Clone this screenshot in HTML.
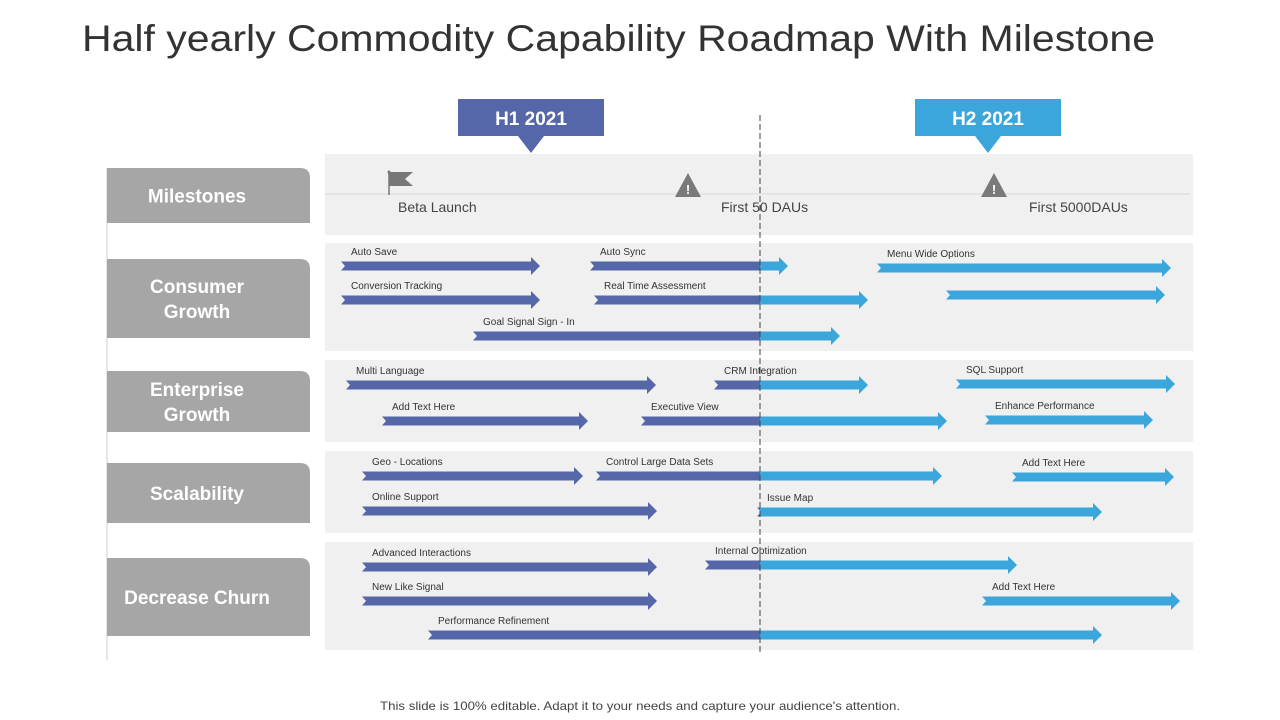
<!DOCTYPE html>
<html><head><meta charset="utf-8"><style>
body{margin:0;width:1280px;height:720px;background:#fff;overflow:hidden;font-family:"Liberation Sans",sans-serif;}
svg{display:block}
</style></head><body>
<svg id="c" width="1280" height="720" viewBox="0 0 1280 720" xmlns="http://www.w3.org/2000/svg">
<text x="82" y="51" font-size="37" fill="#333" textLength="1073" lengthAdjust="spacingAndGlyphs" font-family="Liberation Sans, sans-serif">Half yearly Commodity Capability Roadmap With Milestone</text>
<g id="bands"></g>
<g id="labels"></g>
<line x1="325" y1="194" x2="1190" y2="194" stroke="#d8d8d8" stroke-width="1"/>
<g><line x1="389" y1="172" x2="389" y2="195" stroke="#777" stroke-width="1.5"/><path d="M389,172 L413,172 L405,179 L413,186 L389,186Z" fill="#777"/><circle cx="389" cy="172" r="1.5" fill="#777"/></g>
<text x="398" y="212" font-size="14" fill="#444">Beta Launch</text>
<g><path d="M688,173 L701,197 L675,197Z" fill="#7a7a7a"/><text x="688" y="194" font-size="13" font-weight="bold" fill="#fff" text-anchor="middle">!</text></g>
<text x="721" y="212" font-size="14" fill="#444">First 50 DAUs</text>
<g><path d="M994,173 L1007,197 L981,197Z" fill="#7a7a7a"/><text x="994" y="194" font-size="13" font-weight="bold" fill="#fff" text-anchor="middle">!</text></g>
<text x="1029" y="212" font-size="14" fill="#444">First 5000DAUs</text>
<g id="tasks"></g>
<line x1="760" y1="115" x2="760" y2="652" stroke="#444" stroke-width="1" stroke-dasharray="6,3"/>
<g><rect x="458" y="99" width="146" height="37" fill="#5567a8"/><path d="M518,136 L544,136 L531,153Z" fill="#5567a8"/><text x="531" y="125" font-size="19" font-weight="bold" fill="#fff" text-anchor="middle">H1 2021</text></g>
<g><rect x="915" y="99" width="146" height="37" fill="#3aa6dc"/><path d="M975,136 L1001,136 L988,153Z" fill="#3aa6dc"/><text x="988" y="125" font-size="19" font-weight="bold" fill="#fff" text-anchor="middle">H2 2021</text></g>
<text x="380" y="710" font-size="12" fill="#444" textLength="520" lengthAdjust="spacingAndGlyphs">This slide is 100% editable. Adapt it to your needs and capture your audience's attention.</text>
</svg>
<script>
const rowNames=["Milestones","Consumer Growth","Enterprise Growth","Scalability","Decrease Churn"];
const bandTop=[154,243,360,451,542];
const bandBottom=[235,351,442,533,650];
const labelTop=[168,259,371,463,558];
const labelBottom=[223,338,432,523,636];
const taskNames=["Auto Save","Auto Sync","Menu Wide Options","Conversion Tracking","Real Time  Assessment","","Goal Signal Sign - In","Multi Language","CRM  Integration","SQL Support","Add Text Here","Executive View","Enhance Performance","Geo - Locations","Control Large Data Sets","Add Text Here","Online Support","Issue Map","Advanced Interactions","Internal Optimization","New Like Signal","Add Text Here","Performance Refinement"];
const taskStart=[341,590,877,341,594,946,473,346,714,956,382,641,985,362,596,1012,362,757,362,705,362,982,428];
const taskEnd=[540,788,1171,540,868,1165,840,656,868,1175,588,947,1153,583,942,1174,657,1102,657,1017,657,1180,1102];
const taskY=[266,266,268,300,300,295,336,385,385,384,421,421,420,476,476,477,511,512,567,565,601,601,635];
const splitX=760;
const NS="http://www.w3.org/2000/svg";
function mk(t,a,p){const e=document.createElementNS(NS,t);for(const k in a)e.setAttribute(k,a[k]);p.appendChild(e);return e;}
const bands=document.getElementById('bands'),labels=document.getElementById('labels'),tasks=document.getElementById('tasks');
mk('line',{x1:107,y1:168,x2:107,y2:660,stroke:'#e6e6e6','stroke-width':2},bands);
rowNames.forEach((n,i)=>{
 const b=mk('rect',{x:325,y:bandTop[i],width:868,height:bandBottom[i]-bandTop[i],fill:'#f0f0f0'},bands);
 
 
 const t=labelTop[i],bt=labelBottom[i];
 const g=mk('g',{},labels);
 
 
 mk('path',{d:`M107,${t} L300,${t} Q310,${t} 310,${t+10} L310,${bt} L107,${bt}Z`,fill:'#a6a6a6'},g);
 const words=n==="Milestones"||n==="Scalability"||n==="Decrease Churn"?[n]:n.split(' ');
 const cy=(t+bt)/2;
 words.forEach((w,j)=>{
  const tx=mk('text',{x:197,y:cy+7+(j-(words.length-1)/2)*25,'font-size':19,'font-weight':'bold',fill:'#fff','text-anchor':'middle'},g);
  tx.textContent=w;
 });
});
function arrow(x1,x2,y,col,tail,head,p){
 const h=4.5,hh=9,hw=9;
 let d;
 if(head) d=`M${x1},${y-h} L${x2-hw},${y-h} L${x2-hw},${y-hh} L${x2},${y} L${x2-hw},${y+hh} L${x2-hw},${y+h} L${x1},${y+h}`;
 else d=`M${x1},${y-h} L${x2},${y-h} L${x2},${y+h} L${x1},${y+h}`;
 d+= tail?` L${x1+4},${y}Z`:'Z';
 return mk('path',{d:d,fill:col},p);
}
const dark='#5567a8',light='#3aa6dc';
taskNames.forEach((n,i)=>{
 const g=mk('g',{},tasks);
 
 
 const s=taskStart[i],e=taskEnd[i],y=taskY[i];
 if(e<=splitX) arrow(s,e,y,dark,true,true,g);
 else if(s>=splitX) arrow(s,e,y,light,true,true,g);
 else {arrow(s,splitX,y,dark,true,false,g);arrow(splitX,e,y,light,false,true,g);}
 if(n){const t=mk('text',{x:s+10,y:y-11,'font-size':10,fill:'#333'},g);t.textContent=n;}
});
</script>
</body></html>
